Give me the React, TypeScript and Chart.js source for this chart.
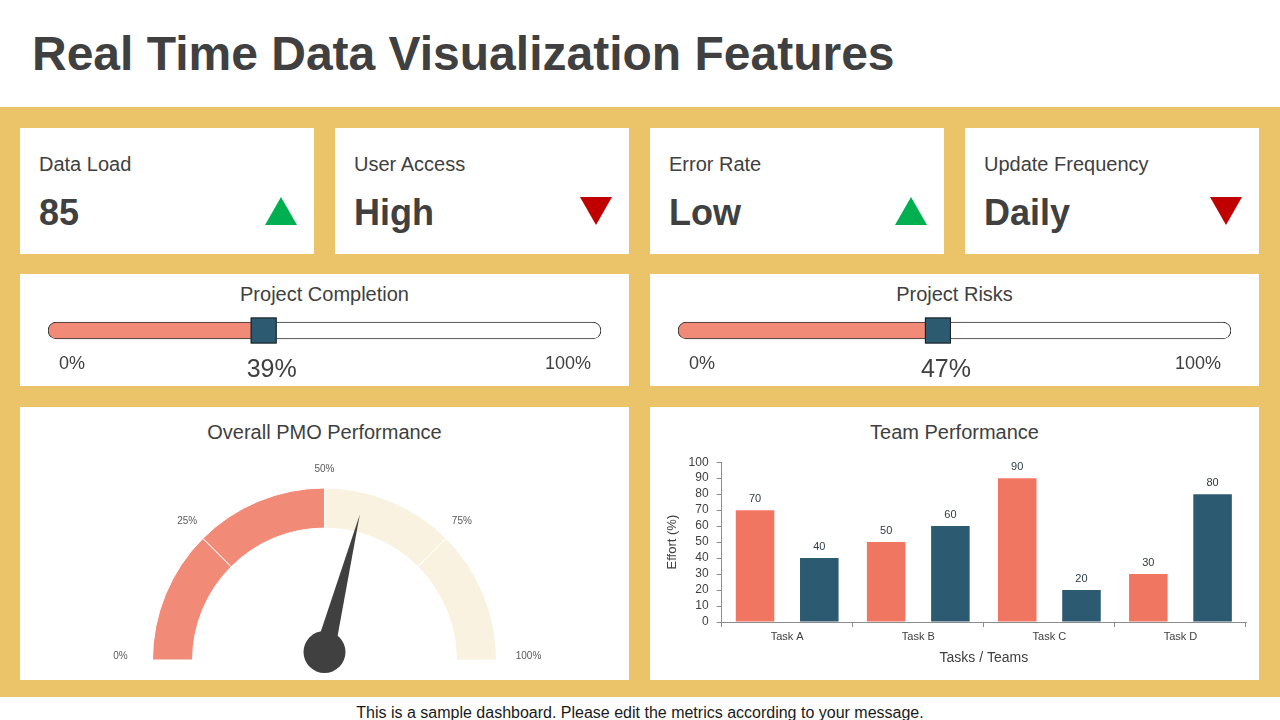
import React, { useEffect, useRef } from "react";
import { Chart, registerables } from "chart.js";

Chart.register(...registerables);

const FONT = '"Liberation Sans", Arial, Helvetica, sans-serif';
Chart.defaults.font.family = FONT;

// ---------- data ----------
const pageTitle = "Real Time Data Visualization Features";
const footerText = "This is a sample dashboard. Please edit the metrics according to your message.";

const kpiLabels = ["Data Load", "User Access", "Error Rate", "Update Frequency"];
const kpiValues = ["85", "High", "Low", "Daily"];
const kpiTrends = ["up", "down", "up", "down"];

const progressTitles = ["Project Completion", "Project Risks"];
const progressValues = [39, 47];
const progressMin = 0;
const progressMax = 100;

const gaugeTitle = "Overall PMO Performance";
const gaugeBands = [25, 25, 25, 25];
const gaugeTickValues = [0, 25, 50, 75, 100];
const gaugeValue = 58;

const teamTitle = "Team Performance";
const teamCategories = ["Task A", "Task B", "Task C", "Task D"];
const teamSeries1 = [70, 50, 90, 30];
const teamSeries2 = [40, 60, 20, 80];
const effortMin = 0;
const effortMax = 100;
const effortStep = 10;

// ---------- styles ----------
const TEXT = "#404040";
const YELLOW = "#EBC46A";
const SALMON = "#F28A78";
const BAR_SALMON = "#F07662";
const TEAL = "#2C5A70";
const CREAM = "#FAF2E1";
const GREEN = "#00B050";
const RED = "#C00000";

function ChartCanvas({ left, top, width, height, config }: any) {
  const ref = useRef<HTMLCanvasElement>(null);
  useEffect(() => {
    const chart = new Chart(ref.current as HTMLCanvasElement, config());
    return () => chart.destroy();
  }, []);
  return (
    <canvas
      ref={ref}
      width={width}
      height={height}
      style={{ position: "absolute", left, top, width, height, display: "block" }}
    />
  );
}

function KpiCard({ left, label, value, trend }: any) {
  const tri: React.CSSProperties =
    trend === "up"
      ? { borderLeft: "16px solid transparent", borderRight: "16px solid transparent", borderBottom: `28px solid ${GREEN}` }
      : { borderLeft: "16px solid transparent", borderRight: "16px solid transparent", borderTop: `28px solid ${RED}` };
  return (
    <div style={{ position: "absolute", left, top: 128, width: 294, height: 126, background: "#fff" }}>
      <div style={{ position: "absolute", left: 19, top: 24, fontSize: 20, lineHeight: "24px", color: TEXT, whiteSpace: "nowrap" }}>
        {label}
      </div>
      <div style={{ position: "absolute", left: 19, top: 65, fontSize: 36, lineHeight: "40px", fontWeight: "bold", color: TEXT, whiteSpace: "nowrap" }}>
        {value}
      </div>
      <div style={{ position: "absolute", left: 245, top: 69, width: 0, height: 0, ...tri }} />
    </div>
  );
}

function progressConfig(title: string, value: number) {
  const markerPlugin = {
    id: "progressMarker",
    afterDatasetsDraw(chart: any) {
      const ctx = chart.ctx;
      const xs = chart.scales.x;
      const bar = chart.getDatasetMeta(0).data[0];
      const cy = bar.y;
      const mx = xs.getPixelForValue(value);
      ctx.save();
      ctx.fillStyle = TEAL;
      ctx.strokeStyle = "#1e1e1e";
      ctx.lineWidth = 1;
      ctx.fillRect(mx - 13, cy - 13, 26, 26);
      ctx.strokeRect(mx - 12.5, cy - 12.5, 25, 25);
      ctx.fillStyle = TEXT;
      ctx.textBaseline = "alphabetic";
      ctx.font = `18px ${FONT}`;
      ctx.textAlign = "left";
      ctx.fillText(`${progressMin}%`, xs.getPixelForValue(progressMin) + 11, cy + 38);
      ctx.textAlign = "right";
      ctx.fillText(`${progressMax}%`, xs.getPixelForValue(progressMax) - 10, cy + 38);
      ctx.font = `25px ${FONT}`;
      ctx.textAlign = "center";
      ctx.fillText(`${value}%`, mx + 8, cy + 46);
      ctx.restore();
    },
  };
  return {
    type: "bar",
    data: {
      labels: [title],
      datasets: [
        {
          data: [value],
          backgroundColor: SALMON,
          borderColor: "#303030",
          borderWidth: 1,
          borderSkipped: false,
          borderRadius: { topLeft: 9, bottomLeft: 9, topRight: 0, bottomRight: 0 },
          barThickness: 17,
        },
        {
          data: [progressMax - value],
          backgroundColor: "#ffffff",
          borderColor: "#303030",
          borderWidth: 1,
          borderSkipped: false,
          borderRadius: { topLeft: 0, bottomLeft: 0, topRight: 9, bottomRight: 9 },
          barThickness: 17,
        },
      ],
    },
    options: {
      indexAxis: "y",
      responsive: false,
      animation: false,
      events: [],
      layout: { padding: { left: 28, right: 28, top: 0, bottom: 29 } },
      scales: {
        x: { stacked: true, min: progressMin, max: progressMax, display: false },
        y: { stacked: true, display: false },
      },
      plugins: { legend: { display: false }, tooltip: { enabled: false } },
    },
    plugins: [markerPlugin],
  };
}

function gaugeConfig() {
  const needlePlugin = {
    id: "gaugeNeedle",
    afterDatasetsDraw(chart: any) {
      const arc = chart.getDatasetMeta(0).data[0];
      const { x: cx, y: cy, outerRadius } = arc.getProps(["x", "y", "outerRadius"], true);
      const ctx = chart.ctx;
      ctx.save();
      ctx.font = `10px ${FONT}`;
      ctx.fillStyle = "#595959";
      ctx.textAlign = "center";
      ctx.textBaseline = "middle";
      gaugeTickValues.forEach((v) => {
        const a = Math.PI + (v / 100) * Math.PI;
        const c = Math.cos(a);
        const c4 = c * c * c * c;
        const r = outerRadius + 19 + 13 * c4;
        ctx.fillText(`${v}%`, cx + r * c, cy + r * Math.sin(a) - 4 * c4);
      });
      const a = Math.PI + (gaugeValue / 100) * Math.PI;
      const px = cx;
      const py = cy - 8;
      const len = 142;
      const tipX = px + len * Math.cos(a);
      const tipY = py + len * Math.sin(a);
      const nx = -Math.sin(a);
      const ny = Math.cos(a);
      const hw = 10;
      ctx.fillStyle = "#404040";
      ctx.beginPath();
      ctx.moveTo(tipX, tipY);
      ctx.lineTo(px + nx * hw, py + ny * hw);
      ctx.lineTo(px - nx * hw, py - ny * hw);
      ctx.closePath();
      ctx.fill();
      ctx.beginPath();
      ctx.arc(px, py, 21, 0, Math.PI * 2);
      ctx.fill();
      ctx.restore();
    },
  };
  return {
    type: "doughnut",
    data: {
      labels: ["0-25", "25-50", "50-75", "75-100"],
      datasets: [
        {
          data: gaugeBands,
          backgroundColor: [SALMON, SALMON, CREAM, CREAM],
          borderColor: "#ffffff",
          borderWidth: 1,
        },
      ],
    },
    options: {
      responsive: false,
      animation: false,
      events: [],
      rotation: -90,
      circumference: 180,
      radius: 172,
      cutout: "76.7%",
      layout: { padding: { top: 41, bottom: 20, left: 0, right: 0 } },
      plugins: { legend: { display: false }, tooltip: { enabled: false } },
    },
    plugins: [needlePlugin],
  };
}

function teamConfig() {
  const labelPlugin = {
    id: "barValues",
    afterDatasetsDraw(chart: any) {
      const ctx = chart.ctx;
      ctx.save();
      ctx.font = `11px ${FONT}`;
      ctx.fillStyle = "#2F3B45";
      ctx.textAlign = "center";
      ctx.textBaseline = "bottom";
      chart.data.datasets.forEach((ds: any, di: number) => {
        chart.getDatasetMeta(di).data.forEach((bar: any, i: number) => {
          ctx.fillText(String(ds.data[i]), bar.x, bar.y - 6);
        });
      });
      ctx.restore();
    },
  };
  const axisColor = "#8C8C8C";
  return {
    type: "bar",
    data: {
      labels: teamCategories,
      datasets: [
        { label: "Team 1", data: teamSeries1, backgroundColor: BAR_SALMON, categoryPercentage: 0.98, barPercentage: 0.6 },
        { label: "Team 2", data: teamSeries2, backgroundColor: TEAL, categoryPercentage: 0.98, barPercentage: 0.6 },
      ],
    },
    options: {
      responsive: false,
      animation: false,
      events: [],
      layout: { padding: { left: 11, right: 13, top: 11, bottom: 9 } },
      scales: {
        x: {
          grid: { display: true, drawOnChartArea: false, drawTicks: true, tickLength: 5, color: axisColor, offset: true },
          border: { display: true, color: axisColor },
          ticks: { font: { size: 11 }, color: TEXT, padding: 3 },
          title: { display: true, text: "Tasks / Teams", font: { size: 14 }, color: TEXT, padding: { top: 4, bottom: 4 } },
        },
        y: {
          min: effortMin,
          max: effortMax,
          grid: { display: true, drawOnChartArea: false, drawTicks: true, tickLength: 5, color: axisColor },
          border: { display: true, color: axisColor },
          ticks: { stepSize: effortStep, autoSkip: false, font: { size: 12 }, color: TEXT, padding: 8 },
          title: { display: true, text: "Effort (%)", font: { size: 13 }, color: TEXT, padding: { top: 4, bottom: 0 } },
        },
      },
      plugins: { legend: { display: false }, tooltip: { enabled: false } },
    },
    plugins: [labelPlugin],
  };
}

function SectionTitle({ text, top }: any) {
  return (
    <div
      style={{
        position: "absolute",
        left: 0,
        width: "100%",
        top,
        textAlign: "center",
        fontSize: 20,
        lineHeight: "24px",
        color: TEXT,
        whiteSpace: "nowrap",
      }}
    >
      {text}
    </div>
  );
}

export default function App() {
  const kpiLefts = [20, 335, 650, 965];
  const halfLefts = [20, 650];
  return (
    <div
      style={{
        position: "absolute",
        left: 0,
        top: 0,
        width: 1280,
        height: 720,
        background: "#fff",
        overflow: "hidden",
        fontFamily: FONT,
      }}
    >
      <div
        style={{
          position: "absolute",
          left: 32,
          top: 26,
          fontSize: 48,
          lineHeight: "56px",
          fontWeight: "bold",
          color: TEXT,
          whiteSpace: "nowrap",
        }}
      >
        {pageTitle}
      </div>
      <div style={{ position: "absolute", left: 0, top: 107, width: 1280, height: 590, background: YELLOW }} />

      {kpiLabels.map((l, i) => (
        <KpiCard key={l} left={kpiLefts[i]} label={l} value={kpiValues[i]} trend={kpiTrends[i]} />
      ))}

      {progressTitles.map((t, i) => (
        <div key={t} style={{ position: "absolute", left: halfLefts[i], top: 274, width: 609, height: 112, background: "#fff" }}>
          <SectionTitle text={t} top={8} />
          <ChartCanvas left={0} top={30} width={609} height={82} config={() => progressConfig(t, progressValues[i])} />
        </div>
      ))}

      <div style={{ position: "absolute", left: 20, top: 407, width: 609, height: 273, background: "#fff" }}>
        <SectionTitle text={gaugeTitle} top={13} />
        <ChartCanvas left={0} top={40} width={609} height={233} config={gaugeConfig} />
      </div>

      <div style={{ position: "absolute", left: 650, top: 407, width: 609, height: 273, background: "#fff" }}>
        <SectionTitle text={teamTitle} top={13} />
        <ChartCanvas left={0} top={40} width={609} height={233} config={teamConfig} />
      </div>

      <div
        style={{
          position: "absolute",
          left: 0,
          width: 1280,
          top: 703,
          textAlign: "center",
          fontSize: 16,
          lineHeight: "20px",
          color: "#1a1a1a",
          whiteSpace: "nowrap",
        }}
      >
        {footerText}
      </div>
    </div>
  );
}
